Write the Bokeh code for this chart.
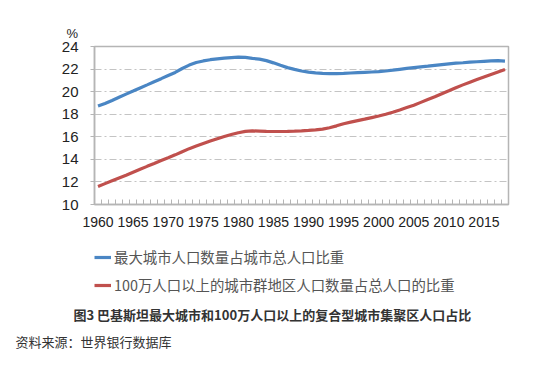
from bokeh.plotting import figure
from bokeh.layouts import column
from bokeh.models import Range1d, FixedTicker, Legend, LegendItem, Title
from bokeh.embed import file_html
from bokeh.resources import INLINE

years = list(range(1960, 2019))
largest_city_share = [
    18.72, 18.95, 19.22, 19.50, 19.78, 20.05, 20.33, 20.60, 20.88, 21.15,
    21.43, 21.70, 22.05, 22.35, 22.58, 22.72, 22.83, 22.91, 22.97, 23.02,
    23.06, 23.03, 22.95, 22.88, 22.75, 22.55, 22.33, 22.13, 21.97, 21.83,
    21.73, 21.66, 21.62, 21.60, 21.60, 21.62, 21.65, 21.68, 21.71, 21.74,
    21.77, 21.83, 21.90, 21.98, 22.06, 22.13, 22.20, 22.26, 22.33, 22.40,
    22.46, 22.52, 22.56, 22.61, 22.65, 22.69, 22.73, 22.74, 22.70,
]
million_agglom_share = [
    11.60, 11.85, 12.10, 12.35, 12.60, 12.86, 13.12, 13.38, 13.63, 13.89,
    14.14, 14.40, 14.68, 14.95, 15.18, 15.40, 15.62, 15.83, 16.02, 16.20,
    16.36, 16.48, 16.52, 16.50, 16.48, 16.47, 16.47, 16.48, 16.50, 16.53,
    16.57, 16.62, 16.68, 16.80, 16.97, 17.16, 17.30, 17.43, 17.56, 17.70,
    17.84, 18.00, 18.18, 18.38, 18.59, 18.80, 19.05, 19.30, 19.55, 19.82,
    20.08, 20.35, 20.60, 20.84, 21.08, 21.30, 21.52, 21.74, 21.96,
]
x_tick_years = [1960, 1965, 1970, 1975, 1980, 1985, 1990, 1995, 2000, 2005, 2010, 2015]
y_ticks = [10, 12, 14, 16, 18, 20, 22, 24]
series_names = ["最大城市人口数量占城市总人口比重",
                "100万人口以上的城市群地区人口数量占总人口的比重"]
caption = "图3 巴基斯坦最大城市和100万人口以上的复合型城市集聚区人口占比"
source_note = "资料来源：世界银行数据库"
unit_label = "%"

BLUE = "#4a86c4"
RED = "#c0504d"
GRAY = "#b5b5b5"
NUM_FONT = "Liberation Sans"
CJK_FONT = "Noto Sans CJK SC"

W = 550
p = figure(width=W, height=240, output_backend="svg", toolbar_location=None,
           x_range=Range1d(years[0] - 0.5, years[-1] + 0.5),
           y_range=Range1d(y_ticks[0], y_ticks[-1]),
           min_border_left=94, min_border_right=42, min_border_top=46,
           min_border_bottom=36)
p.background_fill_color = "white"
p.border_fill_color = "white"
p.outline_line_color = GRAY
p.outline_line_width = 1.5

p.line(years, largest_city_share, line_color=BLUE, line_width=3.2)
p.line(years, million_agglom_share, line_color=RED, line_width=3.2)

# x axis
minor = [y - 0.5 for y in years] + [years[-1] + 0.5]
p.xaxis.ticker = FixedTicker(ticks=x_tick_years, minor_ticks=minor)
p.xaxis.axis_line_color = GRAY
p.xaxis.axis_line_width = 1.5
p.xaxis.major_tick_in = 0
p.xaxis.major_tick_out = 0
p.xaxis.minor_tick_in = 5
p.xaxis.minor_tick_out = 0
p.xaxis.minor_tick_line_color = GRAY
p.xaxis.major_label_standoff = 12
p.xaxis.major_label_text_font = NUM_FONT
p.xaxis.major_label_text_font_size = "14px"
p.xaxis.major_label_text_color = "#222222"

# y axis
p.yaxis.ticker = FixedTicker(ticks=y_ticks, minor_ticks=[])
p.yaxis.axis_line_color = GRAY
p.yaxis.axis_line_width = 1.5
p.yaxis.major_tick_in = 0
p.yaxis.major_tick_out = 4
p.yaxis.major_tick_line_color = GRAY
p.yaxis.minor_tick_line_color = None
p.yaxis.major_label_standoff = 12
p.yaxis.major_label_text_font = NUM_FONT
p.yaxis.major_label_text_font_size = "15px"
p.yaxis.major_label_text_color = "#222222"

p.xgrid.grid_line_color = None
p.ygrid.grid_line_color = "#c4c4c4"
p.ygrid.grid_line_dash = "7 3 2 3"
p.ygrid.grid_line_width = 1

# unit label above the y axis
p.title.text = unit_label
p.title.align = "left"
p.title.offset = -28
p.title.standoff = 11
p.title.text_font = NUM_FONT
p.title.text_font_size = "13px"
p.title.text_font_style = "normal"
p.title.text_color = "#222222"

# lower figure: legend in its frame, caption and source as titles below
H2 = 125
q = figure(width=W, height=H2, output_backend="svg", toolbar_location=None,
           x_range=Range1d(0, 1), y_range=Range1d(0, 1),
           x_axis_location=None, y_axis_location=None,
           min_border_left=94, min_border_right=42,
           min_border_top=6, min_border_bottom=69, outline_line_color=None)
q.xgrid.grid_line_color = None
q.ygrid.grid_line_color = None
q.background_fill_color = "white"
q.border_fill_color = "white"
# same series, outside this figure's view: only their legend samples show
l1 = q.line(years, largest_city_share, line_color=BLUE, line_width=3.2)
l2 = q.line(years, million_agglom_share, line_color=RED, line_width=3.2)

legend = Legend(items=[LegendItem(label=series_names[0], renderers=[l1]),
                       LegendItem(label=series_names[1], renderers=[l2])],
                location="top_left", orientation="vertical",
                border_line_color=None, background_fill_alpha=0,
                padding=0, margin=0, spacing=7,
                label_height=20, glyph_height=20, glyph_width=17,
                label_standoff=3,
                label_text_font=CJK_FONT, label_text_font_size="14.4px",
                label_text_color="#555555")
q.add_layout(legend, "center")

q.add_layout(Title(text=caption, align="left", offset=-21, standoff=12,
                   text_font=CJK_FONT, text_font_size="13px",
                   text_font_style="bold", text_color="#333333"), "below")
q.add_layout(Title(text=source_note, align="left", offset=-79, standoff=0,
                   text_font=CJK_FONT, text_font_size="13px",
                   text_font_style="normal", text_color="#333333"), "below")

layout = column(p, q, spacing=0)
open("out.html", "w").write(file_html(layout, INLINE))
